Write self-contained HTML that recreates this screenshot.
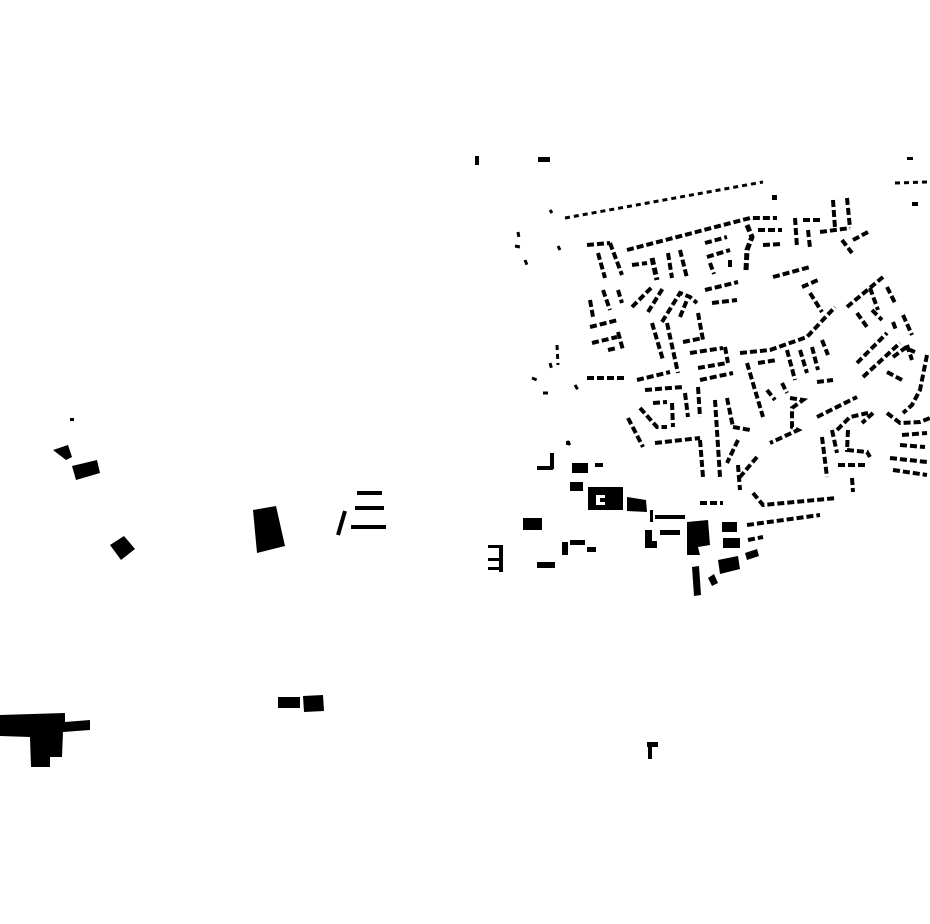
<!DOCTYPE html>
<html><head><meta charset="utf-8"><style>
html,body{margin:0;padding:0;background:#fff;}
svg{display:block}
.d{fill:none;stroke:#000;stroke-width:4;stroke-dasharray:7 3}
.t{fill:none;stroke:#000;stroke-width:3;stroke-dasharray:5 4}
.s{fill:none;stroke:#000;stroke-width:4}
</style></head><body>
<svg width="930" height="924" viewBox="0 0 930 924" xmlns="http://www.w3.org/2000/svg">
<g fill="#000">
<!-- left side -->
<polygon points="53,450 68,445 72,457 66,460"/>
<polygon points="72,466 97,460 100,473 76,480"/>
<polygon points="110,545 124,536 135,549 121,560"/>
<polygon points="253,510 276,506 285,546 257,553"/>
<rect x="70" y="418" width="4" height="3"/>
<polygon points="0,715 65,713 65,722 90,720 90,730 63,732 62,757 50,757 50,767 31,767 30,737 0,736"/>
<rect x="278" y="697" width="22" height="11"/>
<polygon points="303,696 323,695 324,711 304,712"/>
<rect x="647" y="742" width="11" height="5"/>
<rect x="648" y="747" width="4" height="12"/>
<rect x="475" y="156" width="4" height="9"/>
<rect x="538" y="157" width="12" height="5"/>
<rect x="907" y="157" width="6" height="3"/>
<rect x="912" y="202" width="6" height="4"/>
<rect x="772" y="195" width="5" height="5"/>
<!-- south blocks -->
<path d="M588,487 H623 V510 H588 Z M596,495 V505 H605 V502 H600 V498 H605 V495 Z" fill-rule="evenodd"/>
<polygon points="627,497 646,500 647,512 627,511"/>
<rect x="572" y="463" width="16" height="10"/>
<rect x="570" y="482" width="13" height="9"/>
<rect x="523" y="518" width="19" height="12"/>
<polygon points="687,522 708,520 710,545 698,547 700,555 687,555"/>
<rect x="722" y="522" width="15" height="10"/>
<rect x="723" y="538" width="17" height="10"/>
<polygon points="718,560 738,556 740,569 720,574"/>
<polygon points="745,553 757,549 759,556 747,560"/>
<polygon points="692,567 699,566 701,595 694,596"/>
<polygon points="708,578 714,574 718,583 712,586"/>
<rect x="645" y="530" width="7" height="18"/>
<rect x="645" y="541" width="12" height="7"/>
<rect x="660" y="530" width="20" height="5"/>
<rect x="537" y="562" width="18" height="6"/>
<rect x="562" y="542" width="6" height="13"/>
<rect x="570" y="540" width="15" height="5"/>
<rect x="587" y="547" width="9" height="5"/>
<rect x="488" y="545" width="14" height="3"/>
<rect x="499" y="545" width="4" height="27"/>
<rect x="488" y="558" width="11" height="3"/>
<rect x="488" y="567" width="11" height="3"/>
<rect x="537" y="466" width="16" height="4"/>
<rect x="550" y="453" width="4" height="16"/>
<rect x="566" y="441" width="4" height="4"/>
<rect x="595" y="463" width="8" height="4"/>
<rect x="650" y="510" width="3" height="12"/>
<rect x="655" y="515" width="30" height="4"/>
</g>
<!-- left row houses -->
<path class="s" d="M357,493 H382 M355,508 H384 M351,527 H386 M345,511 L338,535" />
<!-- neighbourhood rows -->
<g class="t">
<path d="M565,218 L763,182"/>
<path d="M895,183 L928,182"/>
<path d="M515,246 L520,247 M518,232 L519,238 M525,260 L527,265 M558,246 L560,250 M550,210 L552,213"/>
<path d="M557,345 L558,365 M550,363 L552,370 M532,378 L537,380 M543,393 L549,393 M575,385 L578,390 M567,441 L570,445"/>
</g>
<g class="d">
<path d="M627,250 L750,218 L777,218"/>
<path d="M587,245 L610,243"/>
<path d="M598,253 L605,278"/>
<path d="M610,243 L622,275"/>
<path d="M652,258 L657,280" style="stroke-width:5"/>
<path d="M668,253 L672,278"/>
<path d="M680,250 L687,278"/>
<path d="M705,243 L727,237"/>
<path d="M707,257 L730,250"/>
<path d="M710,263 L714,274 M730,260 L730,270"/>
<path d="M747,225 L752,237 L747,250 L746,270" style="stroke-width:5"/>
<path d="M758,230 L782,230 M763,245 L782,244"/>
<path d="M795,218 L797,247 M803,220 L820,220 M808,230 L810,248"/>
<path d="M833,200 L835,228 M847,198 L850,228"/>
<path d="M820,232 L850,228"/>
<path d="M842,240 L852,253 M853,240 L868,232"/>
<path d="M632,265 L647,263"/>
<path d="M590,300 L593,317 M603,290 L610,310 M618,290 L622,303"/>
<path d="M590,327 L618,320 M592,343 L617,337 M618,332 L623,350 M608,350 L617,348"/>
<path d="M632,307 L652,287 M648,312 L663,288"/>
<path d="M652,323 L663,360 M667,323 L678,373"/>
<path d="M662,322 L680,293 L690,297 L697,303"/>
<path d="M680,317 L687,300 M698,313 L703,340"/>
<path d="M683,342 L703,338 M690,353 L723,348 M698,368 L727,363 M725,347 L728,363"/>
<path d="M705,290 L738,282 M712,303 L737,300"/>
<path d="M773,277 L810,267 M802,287 L818,280 M810,293 L822,312"/>
<path d="M740,353 L770,350 L807,337 L835,307"/>
<path d="M847,307 L883,277 M857,313 L867,327 M870,288 L878,310 M887,287 L895,303 M872,310 L882,320"/>
<path d="M903,315 L912,335 M893,322 L896,330"/>
<path d="M857,363 L887,333 M863,377 L900,343 M887,372 L902,380"/>
<path d="M893,357 L905,348 L915,352 M907,345 L912,360"/>
<path d="M927,355 L920,390 L912,405 L903,413"/>
<path d="M887,413 L900,423 L920,422 L930,418"/>
<path d="M747,363 L763,417 M758,363 L777,360 M767,390 L775,400 M782,383 L787,393"/>
<path d="M787,350 L795,380 M800,350 L807,373 M812,347 L818,370 M822,340 L828,355"/>
<path d="M817,382 L833,380"/>
<path d="M790,398 L803,400 L792,408 L792,427 L798,430 L770,443"/>
<path d="M817,417 L857,397"/>
<path d="M837,430 L850,417 L868,413 M873,413 L862,423"/>
<path d="M822,437 L827,477 M832,430 L837,453"/>
<path d="M848,430 L847,450 L867,452 L870,457"/>
<path d="M838,465 L868,465 M852,478 L853,492"/>
<path d="M902,435 L927,433 M900,445 L925,447 M890,458 L927,462 M893,470 L927,475" />
<path d="M637,380 L670,372 M645,390 L683,387 M700,380 L733,373 M587,378 L627,378"/>
<path d="M685,393 L688,417 M698,387 L700,417 M715,400 L720,477 M727,398 L733,427 M700,440 L703,477"/>
<path d="M653,403 L667,402 M672,403 L673,427 M640,408 L657,427 L667,427"/>
<path d="M628,418 L643,447 M655,443 L700,438"/>
<path d="M733,427 L750,430 M738,440 L727,463 M757,457 L740,477"/>
<path d="M753,493 L763,505 L837,498 M700,503 L723,503"/>
<path d="M747,525 L820,515 M748,540 L763,537 M738,465 L740,490"/>
</g>
</svg>
</body></html>
